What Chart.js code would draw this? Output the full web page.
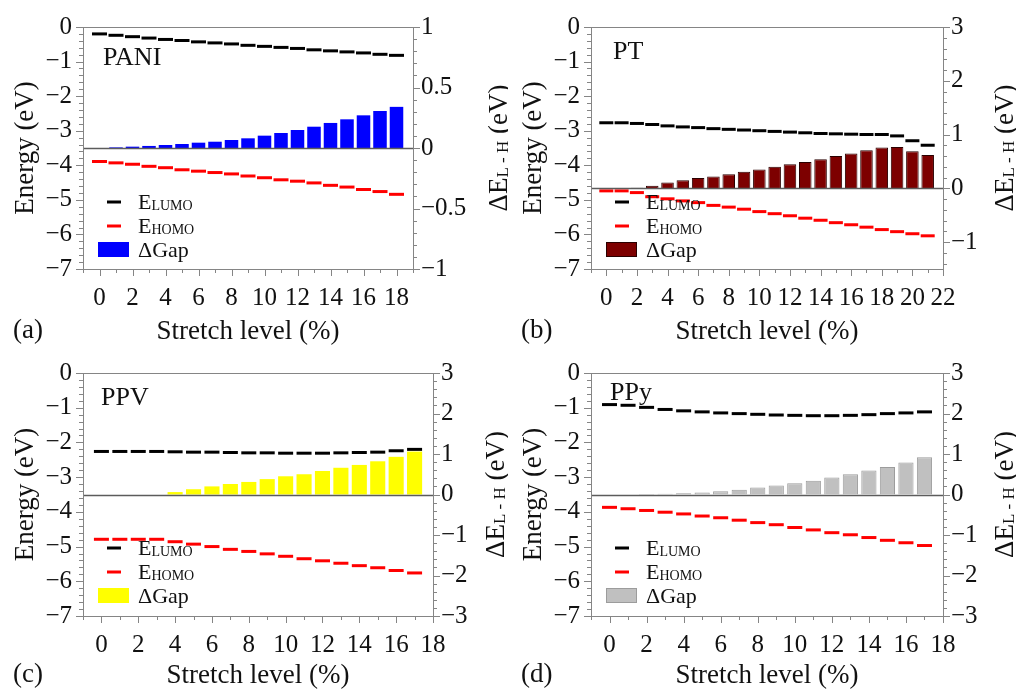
<!DOCTYPE html>
<html>
<head>
<meta charset="utf-8">
<script src="https://cdn.jsdelivr.net/npm/chart.js@4.4.1/dist/chart.umd.min.js"></script>
<style>
  html, body { margin: 0; padding: 0; background: #fff; overflow: hidden; }
  #wrap { position: relative; width: 1016px; height: 689px; }
  #wrap canvas { position: absolute; }
</style>
</head>
<body>
<div id="wrap">
  <canvas id="pani" width="508" height="345" style="left:0;top:0"></canvas>
  <canvas id="pt" width="508" height="345" style="left:508px;top:0"></canvas>
  <canvas id="ppv" width="508" height="344" style="left:0;top:345px"></canvas>
  <canvas id="ppy" width="508" height="344" style="left:508px;top:345px"></canvas>
</div>
<script>
// stretch levels (%)
var stretchPANI = [0, 1, 2, 3, 4, 5, 6, 7, 8, 9, 10, 11, 12, 13, 14, 15, 16, 17, 18];
var stretchPT = [0, 1, 2, 3, 4, 5, 6, 7, 8, 9, 10, 11, 12, 13, 14, 15, 16, 17, 18, 19, 20, 21];
var stretchPPV = [0, 1, 2, 3, 4, 5, 6, 7, 8, 9, 10, 11, 12, 13, 14, 15, 16, 17];
var stretchPPy = [0, 1, 2, 3, 4, 5, 6, 7, 8, 9, 10, 11, 12, 13, 14, 15, 16, 17];

// PANI (eV)
var lumoPANI = [-0.20, -0.24, -0.28, -0.32, -0.36, -0.39, -0.43, -0.46, -0.49, -0.53, -0.56, -0.59, -0.62, -0.66, -0.69, -0.72, -0.75, -0.79, -0.82];
var homoPANI = [-3.89, -3.93, -3.97, -4.03, -4.07, -4.13, -4.17, -4.21, -4.25, -4.31, -4.36, -4.42, -4.46, -4.51, -4.58, -4.63, -4.70, -4.76, -4.84];
var gapPANI = [0.0, 0.005, 0.011, 0.017, 0.025, 0.033, 0.044, 0.052, 0.066, 0.08, 0.102, 0.124, 0.149, 0.176, 0.207, 0.237, 0.27, 0.306, 0.34];

// PT (eV)
var lumoPT = [-2.77, -2.77, -2.79, -2.82, -2.86, -2.89, -2.91, -2.94, -2.96, -2.98, -3.00, -3.02, -3.04, -3.06, -3.08, -3.09, -3.10, -3.11, -3.11, -3.15, -3.29, -3.42];
var homoPT = [-4.74, -4.74, -4.79, -4.91, -4.97, -5.03, -5.08, -5.16, -5.21, -5.27, -5.34, -5.40, -5.46, -5.53, -5.59, -5.66, -5.72, -5.79, -5.86, -5.92, -5.98, -6.04];
var gapPT = [0, 0, 0.01, 0.05, 0.11, 0.15, 0.19, 0.22, 0.26, 0.31, 0.35, 0.40, 0.45, 0.49, 0.54, 0.60, 0.65, 0.71, 0.76, 0.77, 0.69, 0.62];

// PPV (eV)
var lumoPPV = [-2.26, -2.26, -2.26, -2.26, -2.27, -2.28, -2.28, -2.29, -2.30, -2.30, -2.31, -2.31, -2.31, -2.30, -2.29, -2.28, -2.24, -2.20];
var homoPPV = [-4.79, -4.79, -4.79, -4.79, -4.86, -4.93, -5.00, -5.08, -5.14, -5.21, -5.28, -5.35, -5.41, -5.48, -5.55, -5.61, -5.69, -5.76];
var gapPPV = [0, 0, 0, 0, 0.06, 0.13, 0.20, 0.26, 0.31, 0.38, 0.45, 0.50, 0.58, 0.66, 0.73, 0.82, 0.93, 1.06];

// PPy (eV)
var lumoPPy = [-0.91, -0.93, -0.99, -1.05, -1.09, -1.12, -1.15, -1.17, -1.19, -1.21, -1.22, -1.23, -1.23, -1.22, -1.20, -1.17, -1.15, -1.12];
var homoPPy = [-3.87, -3.91, -3.96, -4.01, -4.06, -4.12, -4.17, -4.24, -4.31, -4.37, -4.45, -4.52, -4.60, -4.66, -4.74, -4.82, -4.89, -4.97];
var gapPPy = [0, 0, 0.01, 0.02, 0.03, 0.05, 0.08, 0.12, 0.17, 0.22, 0.28, 0.34, 0.42, 0.50, 0.59, 0.68, 0.79, 0.92];

// tick labels
var energyTicks = [0, -1, -2, -3, -4, -5, -6, -7];
var xTicks18 = [0, 2, 4, 6, 8, 10, 12, 14, 16, 18];
var xTicks22 = [0, 2, 4, 6, 8, 10, 12, 14, 16, 18, 20, 22];
var gapTicksPANI = [1, 0.5, 0, -0.5, -1];
var gapTicksPT = [3, 2, 1, 0, -1];
var gapTicks3 = [3, 2, 1, 0, -1, -2, -3];

var FONT = "'Liberation Serif', 'Times New Roman', serif";
var INK = '#111111';
var FRAME = '#858585';

function pairs(xs, ys) {
    var out = [];
    for (var i = 0; i < xs.length; i++) {
        out.push({ x: xs[i], y: ys[i] });
    }
    return out;
}

function minus(v) {
    return String(v).replace('-', '\u2212');
}

// text pieces of different sizes on one baseline: [text, size, dy]
function drawRuns(ctx, x, y, runs) {
    for (var i = 0; i < runs.length; i++) {
        ctx.font = runs[i][1] + 'px ' + FONT;
        ctx.fillText(runs[i][0], x, y + (runs[i][2] || 0));
        x += ctx.measureText(runs[i][0]).width;
    }
    return x;
}

function runsWidth(ctx, runs) {
    var w = 0;
    for (var i = 0; i < runs.length; i++) {
        ctx.font = runs[i][1] + 'px ' + FONT;
        w += ctx.measureText(runs[i][0]).width;
    }
    return w;
}

// outward tick marks along one side of the plot box
function tickMarks(ctx, scale, side, step, major, a) {
    var k0 = Math.ceil(scale.min / step - 1e-9);
    var k1 = Math.floor(scale.max / step + 1e-9);
    for (var k = k0; k <= k1; k++) {
        var v = k * step;
        var r = v / major;
        var len = Math.abs(r - Math.round(r)) < 1e-6 ? 7 : 4;
        var p = Math.round(scale.getPixelForValue(v)) + 0.5;
        ctx.beginPath();
        if (side === 'left') {
            ctx.moveTo(a.left - len, p); ctx.lineTo(a.left, p);
        } else if (side === 'right') {
            ctx.moveTo(a.right, p); ctx.lineTo(a.right + len, p);
        } else {
            ctx.moveTo(p, a.bottom); ctx.lineTo(p, a.bottom + len);
        }
        ctx.stroke();
    }
}

var panelDecor = {
    id: 'panelDecor',
    afterDatasetsDraw: function(chart) {
        var a = chart.chartArea, ctx = chart.ctx;
        var y0 = Math.round(chart.scales.y2.getPixelForValue(0)) + 0.5;
        ctx.save();
        ctx.strokeStyle = '#5c5c5c';
        ctx.lineWidth = 1.3;
        ctx.beginPath();
        ctx.moveTo(a.left, y0);
        ctx.lineTo(a.right, y0);
        ctx.stroke();
        ctx.restore();
    },
    afterDraw: function(chart, args, o) {
        var a = chart.chartArea, ctx = chart.ctx;
        ctx.save();

        // box and ticks
        ctx.strokeStyle = FRAME;
        ctx.lineWidth = 1;
        ctx.strokeRect(Math.round(a.left) + 0.5, Math.round(a.top) + 0.5,
            Math.round(a.right - a.left), Math.round(a.bottom - a.top));
        tickMarks(ctx, chart.scales.y, 'left', 0.2, 1, a);
        tickMarks(ctx, chart.scales.y2, 'right', o.rMinor, o.rMajor, a);
        tickMarks(ctx, chart.scales.x, 'bottom', 1, 2, a);

        ctx.fillStyle = INK;
        ctx.textAlign = 'left';
        ctx.textBaseline = 'alphabetic';

        // right axis title, rotated
        var title = [['\u0394E', 27], ['L - H', 17, 1], [' (eV)', 27]];
        var tw = runsWidth(ctx, title);
        ctx.save();
        ctx.translate(a.right + o.rTitle, (a.top + a.bottom) / 2);
        ctx.rotate(-Math.PI / 2);
        drawRuns(ctx, -tw / 2, 9, title);
        ctx.restore();

        // polymer name
        ctx.font = '26px ' + FONT;
        ctx.fillText(o.name, a.left + o.nameX, a.top + o.nameY);

        // legend
        var L = a.left, T = a.top;
        ctx.lineWidth = 3;
        ctx.strokeStyle = '#000';
        ctx.beginPath(); ctx.moveTo(L + 24, T + 175); ctx.lineTo(L + 38, T + 175); ctx.stroke();
        ctx.strokeStyle = '#ff0000';
        ctx.beginPath(); ctx.moveTo(L + 24, T + 199); ctx.lineTo(L + 38, T + 199); ctx.stroke();
        ctx.fillStyle = o.barColor;
        ctx.fillRect(L + 15, T + 215, 31, 15);
        if (o.barBorder) {
            ctx.lineWidth = 1;
            ctx.strokeStyle = o.barBorder;
            ctx.strokeRect(L + 15.5, T + 215.5, 30, 14);
        }
        ctx.fillStyle = INK;
        drawRuns(ctx, L + 55, T + 182, [['E', 22], ['LUMO', 14, 1]]);
        drawRuns(ctx, L + 55, T + 206, [['E', 22], ['HOMO', 14, 1]]);
        drawRuns(ctx, L + 55, T + 230, [['\u0394Gap', 22]]);

        // panel letter
        ctx.font = '27px ' + FONT;
        ctx.textBaseline = 'middle';
        ctx.fillText(o.letter, 13, chart.height - 14);
        ctx.restore();
    }
};

function buildPanel(id, p) {
    return new Chart(document.getElementById(id), {
        type: 'bar',
        data: {
            datasets: [{
                type: 'scatter',
                label: 'E_LUMO',
                data: pairs(p.x, p.lumo),
                yAxisID: 'y',
                showLine: false,
                pointStyle: 'line',
                pointRadius: p.dash,
                pointHoverRadius: p.dash,
                pointBorderWidth: 3,
                pointBorderColor: '#000000',
                order: 0
            }, {
                type: 'scatter',
                label: 'E_HOMO',
                data: pairs(p.x, p.homo),
                yAxisID: 'y',
                showLine: false,
                pointStyle: 'line',
                pointRadius: p.dash,
                pointHoverRadius: p.dash,
                pointBorderWidth: 3,
                pointBorderColor: '#ff0000',
                order: 1
            }, {
                type: 'bar',
                label: '\u0394Gap',
                data: pairs(p.x, p.gap),
                yAxisID: 'y2',
                backgroundColor: p.barColor,
                borderColor: p.barBorder || p.barColor,
                borderWidth: p.barBorder ? 1 : 0,
                borderSkipped: 'start',
                barPercentage: 0.82,
                categoryPercentage: 1,
                order: 2
            }]
        },
        options: {
            responsive: false,
            animation: false,
            devicePixelRatio: 1,
            layout: { padding: { top: p.top, left: 0, right: 0, bottom: 0 } },
            plugins: {
                legend: { display: false },
                tooltip: { enabled: false },
                panelDecor: {
                    name: p.name, letter: p.letter, nameX: p.nameX, nameY: p.nameY,
                    barColor: p.barColor, barBorder: p.barBorder,
                    rMinor: p.rMinor, rMajor: p.rMajor, rTitle: p.rTitle
                }
            },
            scales: {
                x: {
                    type: 'linear',
                    min: p.xMin,
                    max: p.xMax,
                    offset: false,
                    grid: { display: false, drawTicks: false },
                    border: { display: false },
                    ticks: {
                        stepSize: 1, autoSkip: false, maxRotation: 0, padding: 14,
                        color: INK, font: { family: FONT, size: 25 },
                        callback: function(v) { return p.xTicks.indexOf(v) >= 0 ? String(v) : ''; }
                    },
                    title: {
                        display: true, text: 'Stretch level (%)', color: INK, padding: 0,
                        font: { family: FONT, size: 27, lineHeight: 1 }
                    },
                    afterFit: function(s) { s.height = p.xH; }
                },
                y: {
                    type: 'linear',
                    position: 'left',
                    min: -7,
                    max: 0,
                    grid: { display: false, drawTicks: false },
                    border: { display: false },
                    ticks: {
                        stepSize: 1, padding: 11, color: INK, font: { family: FONT, size: 25 },
                        callback: function(v) { return energyTicks.indexOf(v) >= 0 ? minus(v) : ''; }
                    },
                    title: {
                        display: true, text: 'Energy (eV)', color: INK, padding: { top: 12.5, bottom: 0 },
                        font: { family: FONT, size: 27, lineHeight: 1 }
                    },
                    afterFit: function(s) { s.width = 83; }
                },
                y2: {
                    type: 'linear',
                    position: 'right',
                    min: p.rMin,
                    max: p.rMax,
                    grid: { display: false, drawTicks: false },
                    border: { display: false },
                    ticks: {
                        stepSize: p.rStep, padding: 8, color: INK, font: { family: FONT, size: 25 },
                        callback: function(v) { return p.rTicks.indexOf(v) >= 0 ? minus(v) : ''; }
                    },
                    afterFit: function(s) { s.width = p.y2W; }
                }
            }
        },
        plugins: [panelDecor]
    });
}

function drawAll() {
    buildPanel('pani', {
        name: 'PANI', letter: '(a)', nameX: 20, nameY: 38,
        x: stretchPANI, lumo: lumoPANI, homo: homoPANI, gap: gapPANI,
        xMin: -1, xMax: 19, xTicks: xTicks18, dash: 7.5,
        rMin: -1, rMax: 1, rStep: 0.5, rTicks: gapTicksPANI, rMinor: 0.1, rMajor: 0.5,
        barColor: '#0000ff', barBorder: null,
        top: 27, xH: 76, y2W: 95, rTitle: 85
    });
    buildPanel('pt', {
        name: 'PT', letter: '(b)', nameX: 22, nameY: 32,
        x: stretchPT, lumo: lumoPT, homo: homoPT, gap: gapPT,
        xMin: -1, xMax: 22, xTicks: xTicks22, dash: 7,
        rMin: -1.5, rMax: 3, rStep: 1, rTicks: gapTicksPT, rMinor: 0.2, rMajor: 1,
        barColor: '#7d0000', barBorder: '#2a0000',
        top: 27, xH: 76, y2W: 73, rTitle: 61
    });
    buildPanel('ppv', {
        name: 'PPV', letter: '(c)', nameX: 18, nameY: 32,
        x: stretchPPV, lumo: lumoPPV, homo: homoPPV, gap: gapPPV,
        xMin: -1, xMax: 18, xTicks: xTicks18, dash: 7.5,
        rMin: -3, rMax: 3, rStep: 1, rTicks: gapTicks3, rMinor: 0.2, rMajor: 1,
        barColor: '#ffff00', barBorder: null,
        top: 28, xH: 73, y2W: 75, rTitle: 62
    });
    buildPanel('ppy', {
        name: 'PPy', letter: '(d)', nameX: 19, nameY: 27,
        x: stretchPPy, lumo: lumoPPy, homo: homoPPy, gap: gapPPy,
        xMin: -1, xMax: 18, xTicks: xTicks18, dash: 7.5,
        rMin: -3, rMax: 3, rStep: 1, rTicks: gapTicks3, rMinor: 0.2, rMajor: 1,
        barColor: '#c0c0c0', barBorder: '#9c9c9c',
        top: 28, xH: 73, y2W: 73, rTitle: 61
    });
}

if (document.fonts && document.fonts.load) {
    document.fonts.load('24px "Liberation Serif"').then(drawAll, drawAll);
} else {
    drawAll();
}
</script>
</body>
</html>
